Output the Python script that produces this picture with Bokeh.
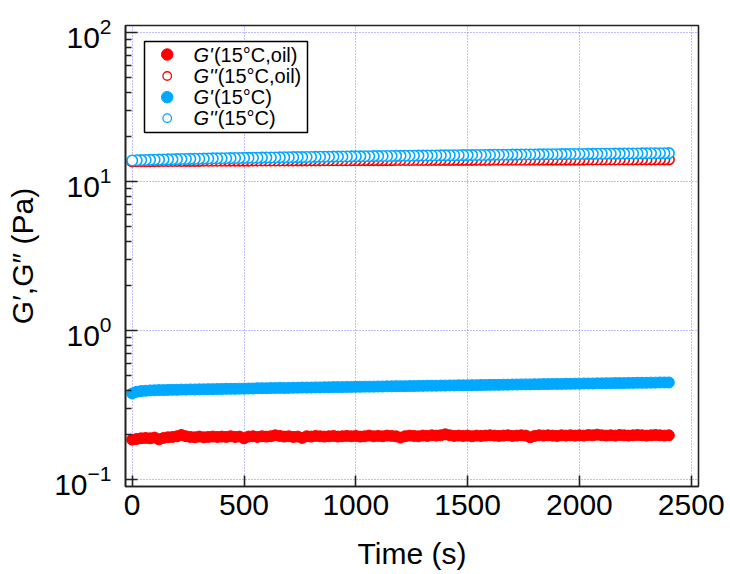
import math
from bokeh.plotting import figure
from bokeh.models import Label, BoxAnnotation, FixedTicker, Range1d
from bokeh.embed import file_html
from bokeh.resources import INLINE

# ---------------- data ----------------
time_s = [0, 20, 40, 60, 80, 100, 120, 140, 160, 180,
          200, 220, 240, 260, 280, 300, 320, 340, 360, 380,
          400, 420, 440, 460, 480, 500, 520, 540, 560, 580,
          600, 620, 640, 660, 680, 700, 720, 740, 760, 780,
          800, 820, 840, 860, 880, 900, 920, 940, 960, 980,
          1000, 1020, 1040, 1060, 1080, 1100, 1120, 1140, 1160, 1180,
          1200, 1220, 1240, 1260, 1280, 1300, 1320, 1340, 1360, 1380,
          1400, 1420, 1440, 1460, 1480, 1500, 1520, 1540, 1560, 1580,
          1600, 1620, 1640, 1660, 1680, 1700, 1720, 1740, 1760, 1780,
          1800, 1820, 1840, 1860, 1880, 1900, 1920, 1940, 1960, 1980,
          2000, 2020, 2040, 2060, 2080, 2100, 2120, 2140, 2160, 2180,
          2200, 2220, 2240, 2260, 2280, 2300, 2320, 2340, 2360, 2380,
          2400]

g1_oil = [0.186, 0.188, 0.190, 0.191, 0.190, 0.192, 0.187, 0.191, 0.193, 0.194,
          0.196, 0.200, 0.196, 0.194, 0.193, 0.195, 0.193, 0.194, 0.195, 0.194,
          0.195, 0.194, 0.196, 0.194, 0.195, 0.190, 0.195, 0.196, 0.194, 0.196,
          0.195, 0.196, 0.199, 0.197, 0.195, 0.196, 0.194, 0.195, 0.191, 0.196,
          0.195, 0.197, 0.196, 0.195, 0.196, 0.197, 0.195, 0.196, 0.197, 0.196,
          0.197, 0.195, 0.196, 0.198, 0.196, 0.197, 0.196, 0.198, 0.197, 0.196,
          0.192, 0.196, 0.198, 0.197, 0.196, 0.198, 0.197, 0.199, 0.198, 0.199,
          0.202, 0.199, 0.197, 0.198, 0.197, 0.198, 0.196, 0.198, 0.197, 0.198,
          0.199, 0.198, 0.197, 0.198, 0.199, 0.197, 0.198, 0.199, 0.198, 0.193,
          0.197, 0.199, 0.198, 0.199, 0.198, 0.197, 0.199, 0.198, 0.199, 0.198,
          0.199, 0.198, 0.200, 0.199, 0.201, 0.199, 0.198, 0.199, 0.198, 0.200,
          0.199, 0.198, 0.199, 0.200, 0.199, 0.198, 0.199, 0.200, 0.199, 0.198,
          0.199]

g2_oil = [13.70, 13.72, 13.73, 13.74, 13.75, 13.76, 13.77, 13.78, 13.78, 13.79,
          13.80, 13.80, 13.81, 13.81, 13.82, 13.82, 13.83, 13.83, 13.84, 13.84,
          13.85, 13.85, 13.86, 13.86, 13.87, 13.87, 13.87, 13.88, 13.88, 13.89,
          13.89, 13.89, 13.90, 13.90, 13.91, 13.91, 13.91, 13.92, 13.92, 13.92,
          13.93, 13.93, 13.93, 13.94, 13.94, 13.94, 13.95, 13.95, 13.95, 13.96,
          13.96, 13.96, 13.97, 13.97, 13.97, 13.97, 13.98, 13.98, 13.98, 13.99,
          13.99, 13.99, 13.99, 14.00, 14.00, 14.00, 14.01, 14.01, 14.01, 14.01,
          14.02, 14.02, 14.02, 14.02, 14.03, 14.03, 14.03, 14.04, 14.04, 14.04,
          14.04, 14.05, 14.05, 14.05, 14.05, 14.06, 14.06, 14.06, 14.06, 14.07,
          14.07, 14.07, 14.07, 14.08, 14.08, 14.08, 14.08, 14.09, 14.09, 14.09,
          14.09, 14.09, 14.10, 14.10, 14.10, 14.10, 14.10, 14.11, 14.11, 14.11,
          14.11, 14.11, 14.12, 14.12, 14.12, 14.12, 14.12, 14.13, 14.13, 14.13,
          14.13]

g1_plain = [0.380, 0.390, 0.394, 0.396, 0.398, 0.399, 0.400, 0.400, 0.401, 0.402,
            0.402, 0.403, 0.403, 0.404, 0.404, 0.405, 0.405, 0.406, 0.406, 0.407,
            0.407, 0.408, 0.408, 0.408, 0.409, 0.409, 0.410, 0.410, 0.412, 0.412,
            0.412, 0.413, 0.413, 0.414, 0.413, 0.414, 0.415, 0.415, 0.416, 0.416,
            0.416, 0.417, 0.417, 0.418, 0.418, 0.419, 0.419, 0.419, 0.420, 0.420,
            0.421, 0.421, 0.422, 0.422, 0.422, 0.423, 0.423, 0.424, 0.424, 0.425,
            0.425, 0.425, 0.426, 0.426, 0.427, 0.427, 0.428, 0.428, 0.428, 0.429,
            0.429, 0.430, 0.430, 0.431, 0.431, 0.431, 0.432, 0.432, 0.433, 0.433,
            0.434, 0.434, 0.434, 0.435, 0.435, 0.436, 0.436, 0.437, 0.437, 0.437,
            0.438, 0.438, 0.439, 0.439, 0.440, 0.440, 0.440, 0.441, 0.441, 0.442,
            0.442, 0.443, 0.443, 0.443, 0.444, 0.444, 0.445, 0.445, 0.446, 0.446,
            0.446, 0.447, 0.447, 0.448, 0.448, 0.448, 0.449, 0.449, 0.450, 0.450,
            0.450]

g2_plain = [13.90, 13.94, 13.98, 14.01, 14.04, 14.07, 14.09, 14.12, 14.14, 14.16,
            14.19, 14.21, 14.23, 14.25, 14.27, 14.29, 14.31, 14.33, 14.35, 14.37,
            14.38, 14.40, 14.42, 14.43, 14.45, 14.47, 14.48, 14.50, 14.51, 14.53,
            14.54, 14.56, 14.57, 14.59, 14.60, 14.61, 14.63, 14.64, 14.65, 14.67,
            14.68, 14.69, 14.71, 14.72, 14.73, 14.75, 14.76, 14.77, 14.78, 14.80,
            14.81, 14.82, 14.83, 14.85, 14.86, 14.87, 14.88, 14.89, 14.91, 14.92,
            14.93, 14.94, 14.95, 14.96, 14.98, 14.99, 15.00, 15.01, 15.02, 15.03,
            15.04, 15.06, 15.07, 15.08, 15.09, 15.10, 15.11, 15.12, 15.13, 15.14,
            15.15, 15.17, 15.18, 15.19, 15.20, 15.21, 15.22, 15.23, 15.24, 15.25,
            15.26, 15.27, 15.28, 15.29, 15.30, 15.31, 15.33, 15.34, 15.35, 15.36,
            15.37, 15.38, 15.39, 15.40, 15.41, 15.42, 15.43, 15.44, 15.45, 15.46,
            15.47, 15.48, 15.49, 15.50, 15.51, 15.52, 15.53, 15.54, 15.55, 15.56,
            15.57]

x_ticks = [0, 500, 1000, 1500, 2000, 2500]
y_ticks = [0.1, 1, 10, 100]
legend_parts = [("G'", "(15°C,oil)"), ("G''", "(15°C,oil)"),
                ("G'", "(15°C)"), ("G''", "(15°C)")]
x_title = "Time (s)"
y_title = "G′,G″ (Pa)"
RED = "#ff0000"
BLUE = "#00a8ff"
FONT = "Liberation Sans"

# ---------------- geometry ----------------
W, H = 730, 574
FL, FR, FT, FB = 125, 698, 25, 486
X0, X1 = -30.0, 2532.6
Y0, Y1 = 0.0902, 111.9
LY0, LY1 = math.log10(Y0), math.log10(Y1)


def tx(sx):
    return X0 + (sx - FL) / (FR - FL) * (X1 - X0)


def vy(sy):
    return 10 ** (LY1 - (sy - FT) / (FB - FT) * (LY1 - LY0))


ADV = {"G": 0.778, "'": 0.191}


def tw(s, size):
    return sum(ADV.get(c, 0.556) for c in s) * size


def clabel(sx, sy, text, size, style="normal"):
    return Label(x=sx, y=sy, x_units="canvas", y_units="canvas", text=text,
                 text_font=FONT, text_font_size=f"{size}px", text_font_style=style,
                 text_align="left", text_baseline="middle", text_color="black")


p = figure(width=W, height=H, x_range=Range1d(X0, X1), y_range=Range1d(Y0, Y1),
           y_axis_type="log", output_backend="svg", toolbar_location=None,
           min_border_left=FL, min_border_right=W - FR, min_border_top=FT,
           min_border_bottom=H - FB)
p.background_fill_color = "white"
p.border_fill_color = "white"
p.outline_line_color = "#222222"
p.outline_line_width = 1.6

minor = [k * 10 ** e for e in range(-2, 3) for k in range(2, 10)]
p.xaxis.ticker = FixedTicker(ticks=x_ticks, minor_ticks=[])
p.yaxis.ticker = FixedTicker(ticks=y_ticks, minor_ticks=minor)

for ax in (p.xaxis[0], p.yaxis[0]):
    ax.axis_line_color = "#222222"
    ax.axis_line_width = 1.6
    ax.major_tick_line_color = "#222222"
    ax.major_tick_line_width = 1.6
    ax.minor_tick_line_color = "#222222"
    ax.minor_tick_line_width = 1.4
    ax.major_tick_out = 0
    ax.minor_tick_out = 0
    ax.major_label_text_font = FONT
    ax.major_label_text_font_size = "30px"
    ax.major_label_text_color = "black"
    ax.axis_label_text_font = FONT
    ax.axis_label_text_font_size = "30px"
    ax.axis_label_text_font_style = "normal"
    ax.axis_label_text_color = "black"
p.xaxis.major_tick_in = 11
p.yaxis.major_tick_in = 12
p.yaxis.minor_tick_in = 6
p.xaxis.minor_tick_in = 0
p.xaxis.major_label_standoff = 8
p.yaxis.major_label_standoff = 14
p.xaxis.axis_label = x_title
p.yaxis.axis_label = y_title
p.xaxis.axis_label_standoff = 19
p.yaxis.axis_label_standoff = 12

for g in (p.xgrid[0], p.ygrid[0]):
    g.grid_line_color = "#6e6eff"
    g.grid_line_alpha = 0.9
    g.grid_line_dash = "1 2"
    g.grid_line_width = 1

# ---------------- data marks ----------------
p.scatter(time_s, g1_oil, size=11, marker="circle", fill_color=RED, line_color=RED)
p.scatter(time_s[::-1], g2_oil[::-1], size=10.5, marker="circle", fill_color="white",
          line_color=RED, line_width=1.6)
p.scatter(time_s, g1_plain, size=11, marker="circle", fill_color=BLUE, line_color=BLUE)
p.scatter(time_s[::-1], g2_plain[::-1], size=10.5, marker="circle", fill_color="white",
          line_color=BLUE, line_width=1.6)

# ---------------- legend ----------------
box = BoxAnnotation(left=tx(144), right=tx(307), top=vy(41), bottom=vy(132),
                    fill_color="white", fill_alpha=1.0, line_color="black",
                    line_alpha=1.0, line_width=1.5)
p.add_layout(box)
rows_sy = [54, 75.5, 96.7, 117.7]
colors = [RED, RED, BLUE, BLUE]
filled = [True, False, True, False]
for (gpart, rest), sy, col, fl in zip(legend_parts, rows_sy, colors, filled):
    r = p.scatter([tx(166.7)], [vy(sy)], size=11.5 if fl else 8.5, marker="circle",
                  fill_color=col if fl else "white", line_color=col,
                  line_width=1 if fl else 1.3)
    r.level = "overlay"
    p.add_layout(clabel(193, sy, gpart, 20, style="italic"))
    p.add_layout(clabel(193 + tw(gpart, 20) + 1, sy, rest, 20))

open("out.html", "w").write(file_html(p, INLINE))
